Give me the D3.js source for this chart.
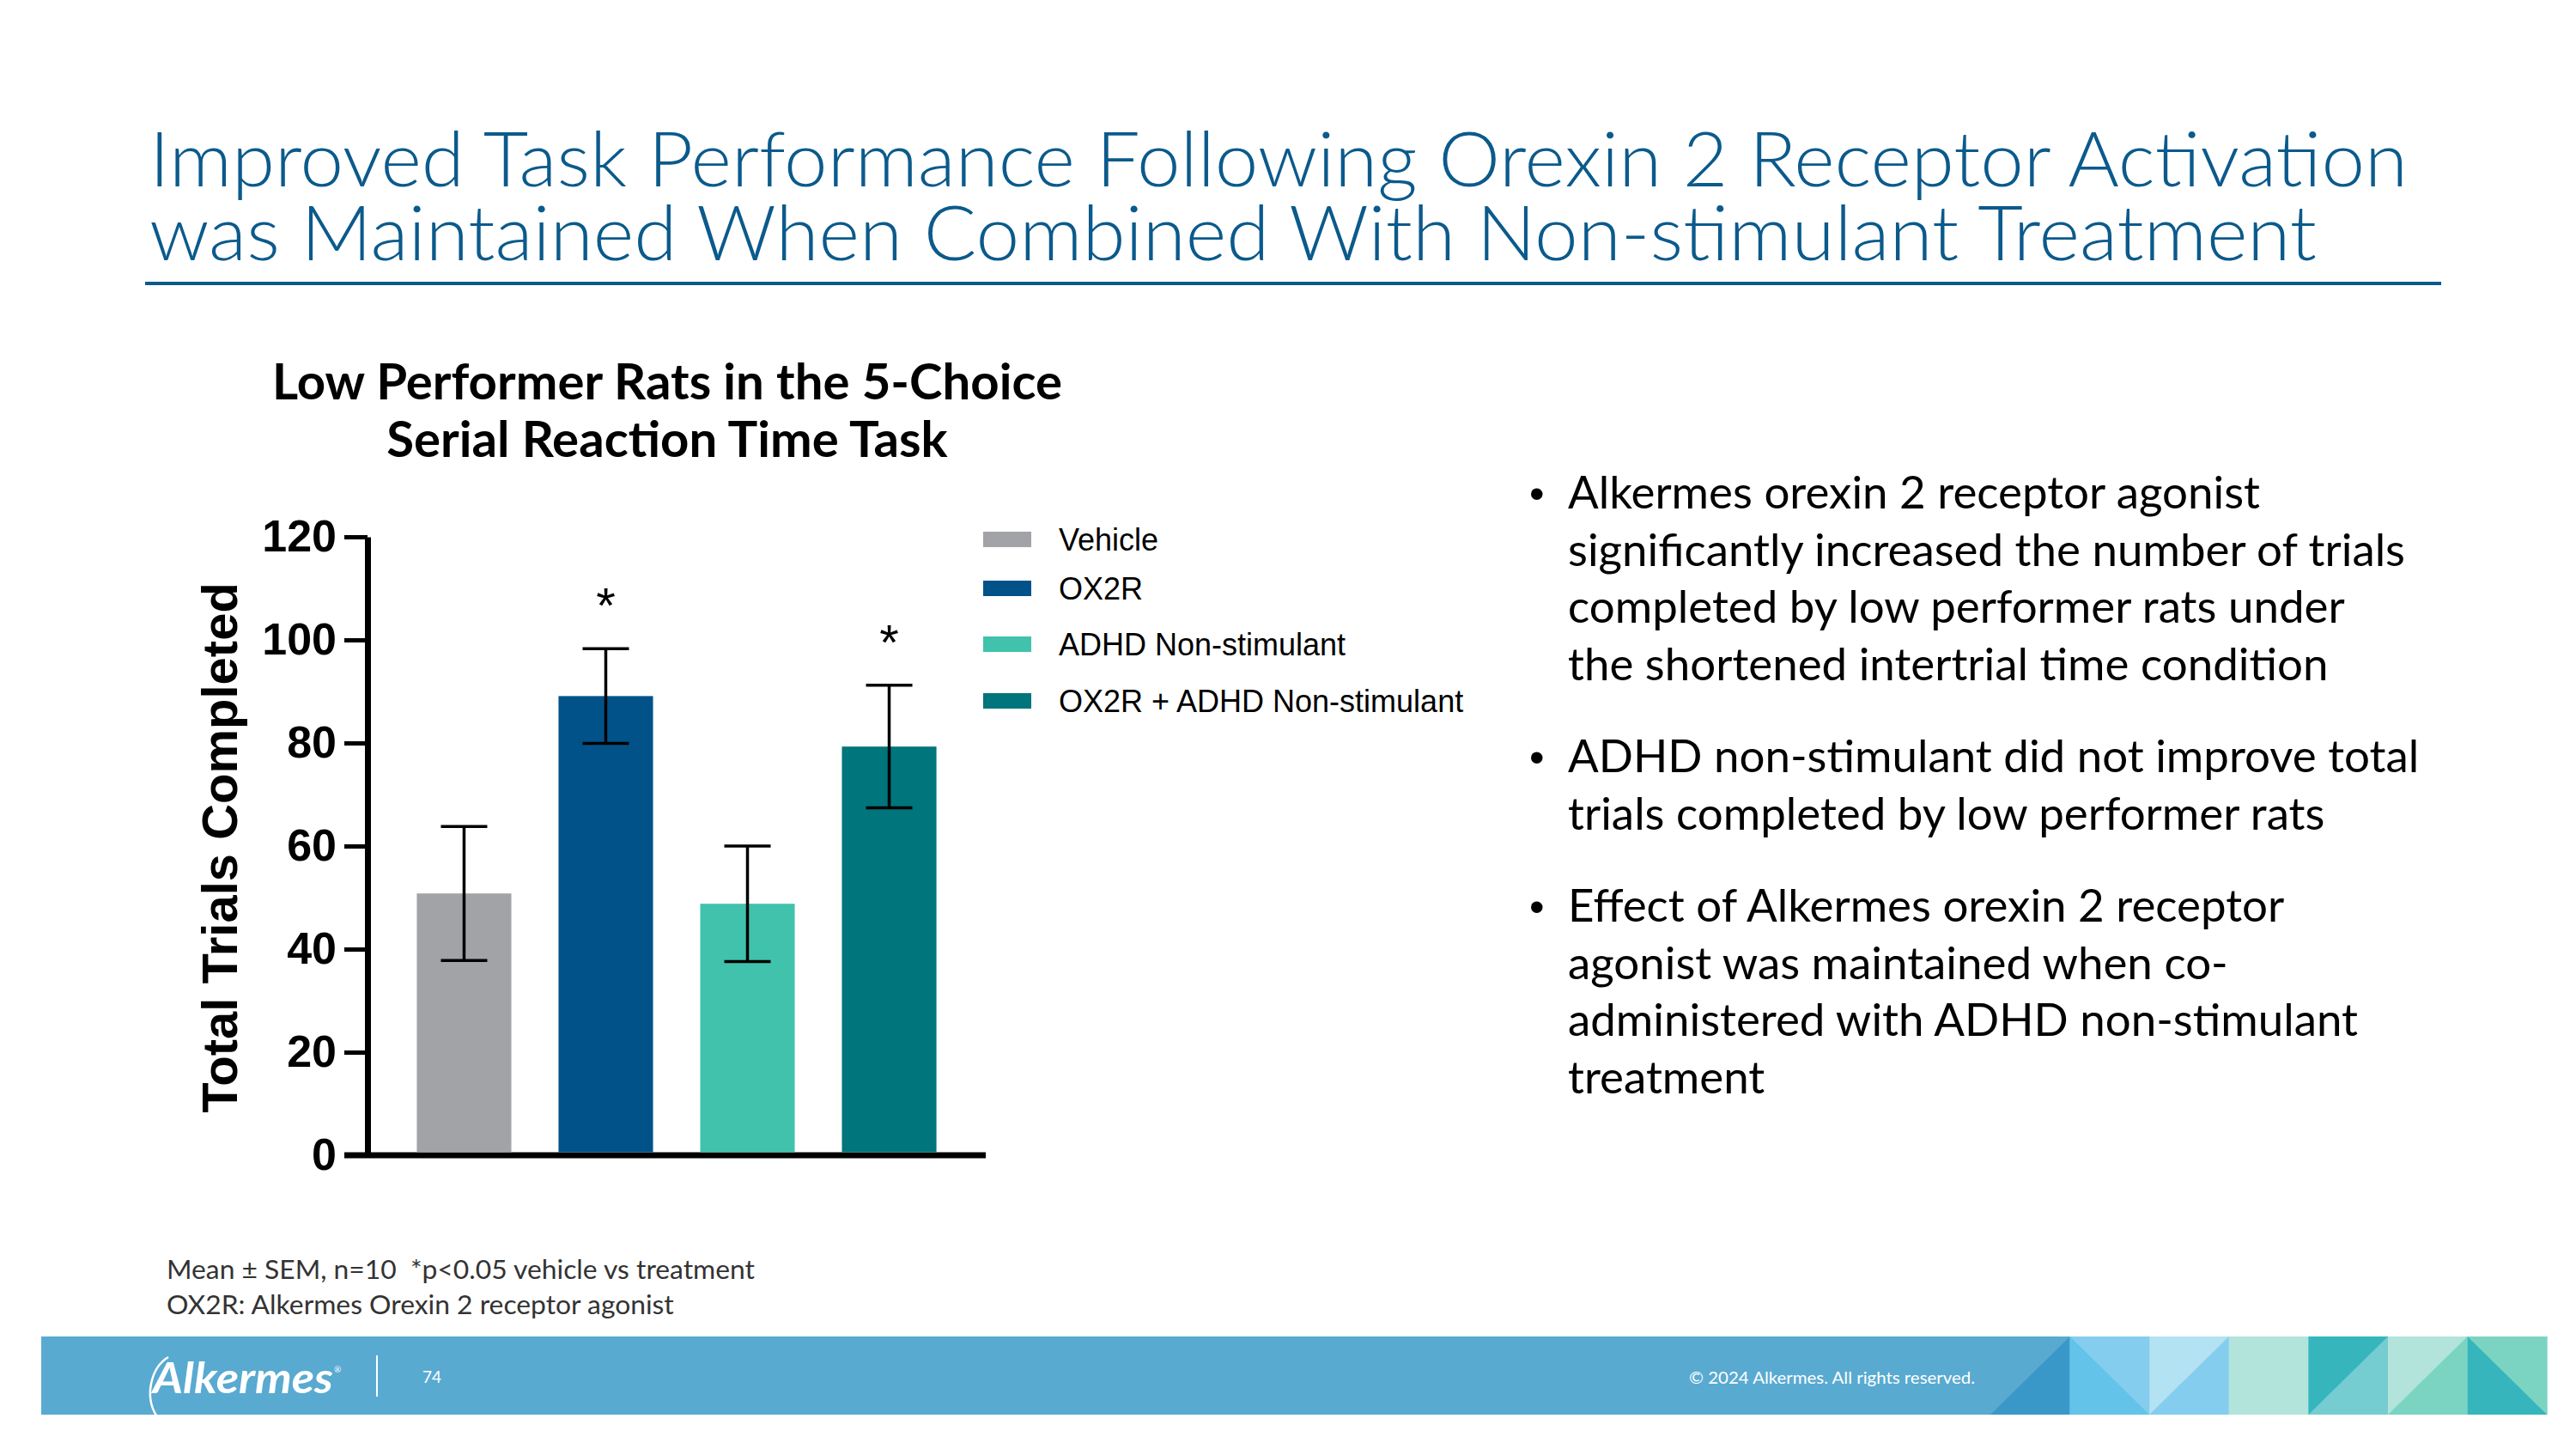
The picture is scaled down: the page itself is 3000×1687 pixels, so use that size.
<!DOCTYPE html>
<html lang="en">
<head>
<meta charset="UTF-8">
<title>Improved Task Performance Following Orexin 2 Receptor Activation</title>
<script src="https://d3js.org/d3.v7.min.js"></script>
<style>
    body { margin: 0; background: #ffffff; }
    svg { display: block; }
</style>
</head>
<body>
<div id="chart"></div>
<script>
    // Data
    const categories = ["Vehicle", "OX2R", "ADHD Non-stimulant", "OX2R + ADHD Non-stimulant"];
    const means = [50.8, 89.1, 48.8, 79.3];
    const sems = [13.0, 9.2, 11.2, 11.9];
    const significant = [false, true, false, true];
    const colors = ["#a1a3a6", "#02528a", "#41c2ac", "#00757b"];
    const yTicks = [0, 20, 40, 60, 80, 100, 120];

    const titleLines = [
        "Improved Task Performance Following Orexin 2 Receptor Activation",
        "was Maintained When Combined With Non-stimulant Treatment"
    ];
    const chartTitle = ["Low Performer Rats in the 5-Choice", "Serial Reaction Time Task"];
    const yLabel = "Total Trials Completed";
    const bullets = [
        ["Alkermes orexin 2 receptor agonist",
         "significantly increased the number of trials",
         "completed by low performer rats under",
         "the shortened intertrial time condition"],
        ["ADHD non-stimulant did not improve total",
         "trials completed by low performer rats"],
        ["Effect of Alkermes orexin 2 receptor",
         "agonist was maintained when co-",
         "administered with ADHD non-stimulant",
         "treatment"]
    ];
    const footnotes = ["Mean \u00B1 SEM, n=10  *p<0.05 vehicle vs treatment",
                       "OX2R: Alkermes Orexin 2 receptor agonist"];
    const pageNumber = "74";
    const copyright = "\u00A9 2024 Alkermes. All rights reserved.";

    const W = 3000, H = 1687;
    const sans = "Lato, 'Open Sans', sans-serif";
    const arial = "'Liberation Sans', Arial, sans-serif";

    const svg = d3.select("#chart").append("svg")
        .attr("width", W).attr("height", H);
    svg.append("rect").attr("width", W).attr("height", H).attr("fill", "#fff");

    // squeeze a block of lines so that one reference line hits a target width
    function squeeze(sel, refIndex, target) {
        const nodes = sel.nodes();
        const k = target / nodes[refIndex].getComputedTextLength();
        nodes.forEach(n => {
            n.setAttribute("textLength", n.getComputedTextLength() * k);
            n.setAttribute("lengthAdjust", "spacingAndGlyphs");
        });
    }

    // ---- slide title ----
    const titleWidths = [2630, 2524];
    svg.selectAll(".title").data(titleLines).join("text")
        .attr("class", "title")
        .attr("x", 174)
        .attr("y", (d, i) => 217 + i * 86)
        .attr("font-family", sans)
        .attr("font-weight", 300)
        .attr("font-size", 88)
        .attr("fill", "#0b5a8c")
        .attr("textLength", (d, i) => titleWidths[i])
        .attr("lengthAdjust", "spacingAndGlyphs")
        .text(d => d);

    svg.append("line")
        .attr("x1", 169).attr("x2", 2843)
        .attr("y1", 330).attr("y2", 330)
        .attr("stroke", "#0b5a8c").attr("stroke-width", 4);

    // ---- chart title ----
    const ct = svg.selectAll(".ctitle").data(chartTitle).join("text")
        .attr("class", "ctitle")
        .attr("x", 777)
        .attr("y", (d, i) => 465 + i * 67)
        .attr("text-anchor", "middle")
        .attr("font-family", sans)
        .attr("font-weight", 700)
        .attr("font-size", 58)
        .attr("fill", "#000")
        .text(d => d);
    squeeze(ct, 0, 920);

    // ---- bar chart ----
    const y = d3.scaleLinear().domain([0, 120]).range([1345, 625]);
    const x = d3.scaleBand().domain(categories)
        .range([428, 1148])
        .paddingInner(0.333)
        .paddingOuter(0.348);

    const yAxis = svg.append("g")
        .attr("transform", "translate(428,0)")
        .call(d3.axisLeft(y).tickValues(yTicks).tickSize(27).tickSizeOuter(0).tickPadding(9));
    yAxis.select(".domain").attr("stroke", "#000").attr("stroke-width", 7);
    yAxis.selectAll(".tick line").attr("stroke", "#000").attr("stroke-width", 5);
    yAxis.selectAll(".tick text")
        .attr("font-family", arial)
        .attr("font-weight", 700)
        .attr("font-size", 52)
        .attr("fill", "#000");

    // x baseline
    svg.append("line")
        .attr("x1", 401).attr("x2", x.range()[1])
        .attr("y1", y(0)).attr("y2", y(0))
        .attr("stroke", "#000").attr("stroke-width", 7);

    svg.append("text")
        .attr("transform", `translate(276,${(y(0) + y(120)) / 2 + 2}) rotate(-90)`)
        .attr("text-anchor", "middle")
        .attr("font-family", arial)
        .attr("font-weight", 700)
        .attr("font-size", 58)
        .attr("fill", "#000")
        .text(yLabel);

    svg.selectAll(".bar").data(categories).join("rect")
        .attr("class", "bar")
        .attr("x", d => x(d))
        .attr("width", x.bandwidth())
        .attr("y", (d, i) => y(means[i]))
        .attr("height", (d, i) => y(0) - y(means[i]) - 3.5)
        .attr("fill", (d, i) => colors[i]);

    // error bars
    const capW = 54;
    const eb = svg.selectAll(".err").data(categories).join("g")
        .attr("class", "err")
        .attr("stroke", "#000")
        .attr("stroke-width", 3.5);
    eb.append("line")
        .attr("x1", d => x(d) + x.bandwidth() / 2)
        .attr("x2", d => x(d) + x.bandwidth() / 2)
        .attr("y1", (d, i) => y(means[i] + sems[i]))
        .attr("y2", (d, i) => y(means[i] - sems[i]));
    eb.append("line")
        .attr("x1", d => x(d) + x.bandwidth() / 2 - capW / 2)
        .attr("x2", d => x(d) + x.bandwidth() / 2 + capW / 2)
        .attr("y1", (d, i) => y(means[i] + sems[i]))
        .attr("y2", (d, i) => y(means[i] + sems[i]));
    eb.append("line")
        .attr("x1", d => x(d) + x.bandwidth() / 2 - capW / 2)
        .attr("x2", d => x(d) + x.bandwidth() / 2 + capW / 2)
        .attr("y1", (d, i) => y(means[i] - sems[i]))
        .attr("y2", (d, i) => y(means[i] - sems[i]));

    // significance stars
    svg.selectAll(".star").data(categories.filter((d, i) => significant[i])).join("text")
        .attr("class", "star")
        .attr("x", d => x(d) + x.bandwidth() / 2)
        .attr("y", d => {
            const i = categories.indexOf(d);
            return y(means[i] + sems[i]) - 30;
        })
        .attr("text-anchor", "middle")
        .attr("font-family", arial)
        .attr("font-size", 58)
        .attr("fill", "#000")
        .text("*");

    // legend
    const legendRowY = [628, 685, 750, 816];
    const lg = svg.selectAll(".lg").data(categories).join("g")
        .attr("class", "lg")
        .attr("transform", (d, i) => `translate(1145,${legendRowY[i]})`);
    lg.append("rect")
        .attr("x", 0).attr("y", -9)
        .attr("width", 56).attr("height", 18)
        .attr("fill", (d, i) => colors[i]);
    lg.append("text")
        .attr("x", 88).attr("y", 13)
        .attr("font-family", arial)
        .attr("font-size", 36)
        .attr("fill", "#000")
        .text(d => d);

    // ---- bullet text ----
    let by = 592;
    const bulletLines = [];
    bullets.forEach((para, p) => {
        if (p > 0) by += 107.5 - 66.5;
        para.forEach((line, j) => {
            bulletLines.push({text: line, y: by, first: j === 0});
            by += 66.5;
        });
    });
    const bl = svg.selectAll(".bl").data(bulletLines).join("text")
        .attr("class", "bl")
        .attr("x", 1826)
        .attr("y", d => d.y)
        .attr("font-family", sans)
        .attr("font-size", 53)
        .attr("fill", "#000")
        .text(d => d.text);
    squeeze(bl, 1, 975);
    svg.selectAll(".dot").data(bulletLines.filter(d => d.first)).join("text")
        .attr("class", "dot")
        .attr("x", 1781)
        .attr("y", d => d.y)
        .attr("font-family", arial)
        .attr("font-size", 50)
        .attr("fill", "#000")
        .text("\u2022");

    // ---- footnotes ----
    const fn = svg.selectAll(".fn").data(footnotes).join("text")
        .attr("class", "fn")
        .attr("x", 194)
        .attr("y", (d, i) => 1489 + i * 41)
        .attr("font-family", sans)
        .attr("font-size", 30)
        .attr("fill", "#333")
        .style("white-space", "pre")
        .text(d => d);
    squeeze(fn, 0, 685);

    // ---- footer band ----
    const fTop = 1556, fBot = 1647;
    svg.append("rect")
        .attr("x", 48).attr("y", fTop)
        .attr("width", 2918).attr("height", fBot - fTop)
        .attr("fill", "#59aad0");

    const segX0 = 2318, segStep = 92.6;
    const segs = [
        {bg: "#59aad0", tri: "#3a98c9", pts: [[0, 1], [1, 0], [1, 1]], off: 0},
        {bg: "#85cdee", tri: "#63c3e8", pts: [[0, 0], [1, 1], [0, 1]], off: 1},
        {bg: "#b3e2f3", tri: "#85cdee", pts: [[0, 1], [1, 0], [1, 1]], off: 2},
        {bg: "#b2e4dc", tri: null, pts: [], off: 3},
        {bg: "#36b5bd", tri: "#75cdd2", pts: [[0, 1], [1, 0], [1, 1]], off: 4},
        {bg: "#b2e4dc", tri: "#7bd4c2", pts: [[0, 1], [1, 0], [1, 1]], off: 5},
        {bg: "#7bd4c2", tri: "#36b5bd", pts: [[0, 0], [1, 1], [0, 1]], off: 6}
    ];
    segs.forEach(s => {
        const sx = segX0 + s.off * segStep;
        if (s.off > 0) {
            svg.append("rect")
                .attr("x", sx).attr("y", fTop)
                .attr("width", segStep + 0.5).attr("height", fBot - fTop)
                .attr("fill", s.bg);
        }
        if (s.tri) {
            svg.append("path")
                .attr("d", "M" + s.pts.map(p => [sx + p[0] * segStep, p[1] ? fBot : fTop].join(",")).join("L") + "Z")
                .attr("fill", s.tri);
        }
    });

    // logo
    svg.append("path")
        .attr("d", "M196,1580 C176,1592 168,1625 182,1648")
        .attr("fill", "none").attr("stroke", "#fff").attr("stroke-width", 2.5);
    svg.append("text")
        .attr("x", 178).attr("y", 1622)
        .attr("font-family", sans)
        .attr("font-style", "italic")
        .attr("font-weight", 700)
        .attr("font-size", 50)
        .attr("fill", "#fff")
        .attr("textLength", 210)
        .attr("lengthAdjust", "spacingAndGlyphs")
        .text("Alkermes");
    svg.append("text")
        .attr("x", 389).attr("y", 1598)
        .attr("font-family", sans)
        .attr("font-size", 10)
        .attr("fill", "#fff")
        .text("\u00AE");
    svg.append("line")
        .attr("x1", 439).attr("x2", 439)
        .attr("y1", 1578).attr("y2", 1626)
        .attr("stroke", "#fff").attr("stroke-width", 2);
    svg.append("text")
        .attr("x", 492).attr("y", 1610)
        .attr("font-family", sans)
        .attr("font-size", 19)
        .attr("fill", "#fff")
        .text(pageNumber);
    svg.append("text")
        .attr("x", 1967).attr("y", 1611)
        .attr("font-family", sans)
        .attr("font-size", 20)
        .attr("fill", "#fff")
        .attr("textLength", 333)
        .attr("lengthAdjust", "spacingAndGlyphs")
        .text(copyright);
</script>
</body>
</html>
